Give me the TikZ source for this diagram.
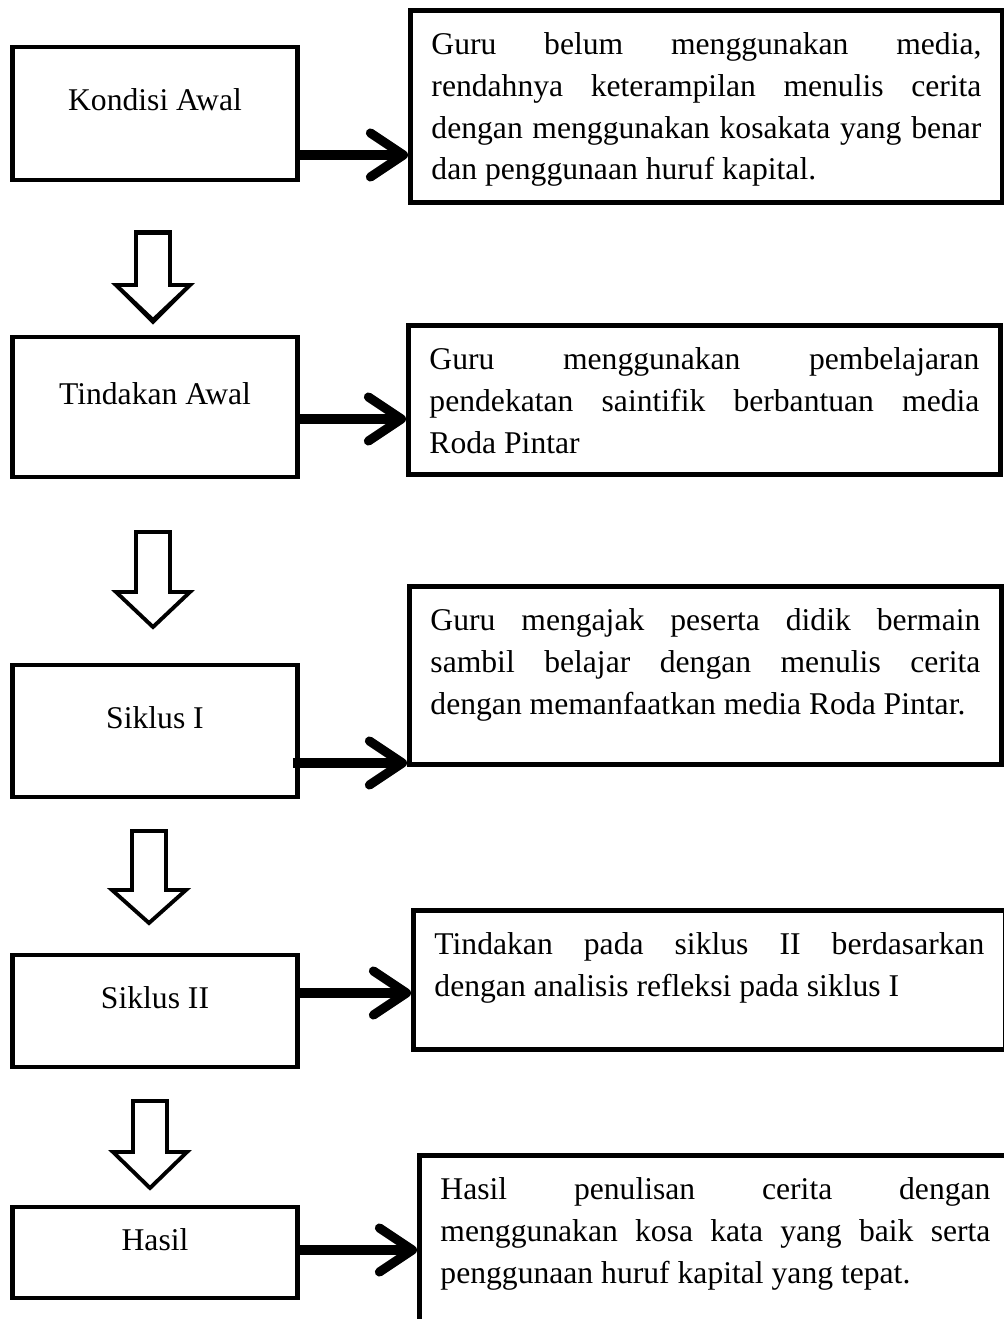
\documentclass[tikz,border=0pt]{standalone}
\usepackage{fontspec}
\setmainfont{Liberation Serif}
\usetikzlibrary{arrows.meta}
\tolerance=10000
\hyphenpenalty=10000

\tikzset{
    tahap/.style={draw, line width=1.4pt, minimum width=2.85cm, inner sep=0pt, text height=2.2mm, text depth=2.7mm},
    ket/.style={draw, line width=1.4pt, anchor=north west, inner xsep=2.1mm, inner ysep=2.2mm},
    panah/.style={line width=2.6pt, -{Straight Barb[round, length=3.3mm, width=4.4mm]}},
    kosong/.style={draw, line width=1.1pt, fill=white}
}

\begin{document}
\begin{tikzpicture}[x=0.1mm, y=-0.1mm, every node/.style={font=\fontsize{9}{11.9}\selectfont}]
            % image from (0,0) to (1003,1319), y goes down
            \useasboundingbox (0,0) rectangle (1003,1319);

            % Stages on the left
            \node[tahap, minimum height=1.33cm] (kondisi) at (155,113.5) {Kondisi Awal};
            \node[tahap, minimum height=1.40cm] (tindakan) at (155,407) {Tindakan Awal};
            \node[tahap, minimum height=1.32cm] (siklusI) at (155,731) {Siklus I};
            \node[tahap, minimum height=1.12cm] (siklusII) at (155,1011) {Siklus II};
            \node[tahap, minimum height=0.91cm] (hasil) at (155,1252.5) {Hasil};

            % Explanations on the right
            \node[ket] (ketKondisi) at (408,8) {\parbox[t][1.48cm][t]{5.5cm}{Guru belum menggunakan media,\linebreak rendahnya keterampilan menulis cerita\linebreak dengan menggunakan kosakata yang benar\linebreak dan penggunaan huruf kapital.}};
            \node[ket] (ketTindakan) at (406,323) {\parbox[t][1.05cm][t]{5.5cm}{Guru menggunakan pembelajaran\linebreak pendekatan saintifik berbantuan media\linebreak Roda Pintar}};
            \node[ket] (ketSiklusI) at (407,584) {\parbox[t][1.34cm][t]{5.5cm}{Guru mengajak peserta didik bermain\linebreak sambil belajar dengan menulis cerita\linebreak dengan memanfaatkan media Roda Pintar.}};
            \node[ket] (ketSiklusII) at (411,908) {\parbox[t][0.95cm][t]{5.5cm}{Tindakan pada siklus II berdasarkan\linebreak dengan analisis refleksi pada siklus I}};
            \node[ket] (ketHasil) at (417,1153) {\parbox[t][2.0cm][t]{5.5cm}{Hasil penulisan cerita dengan\linebreak menggunakan kosa kata yang baik serta\linebreak penggunaan huruf kapital yang tepat.}};

            % Arrows to the explanations
            \draw[panah] (kondisi.east |- 0,155) -- (ketKondisi.west |- 0,155);
            \draw[panah] (tindakan.east |- 0,419) -- (ketTindakan.west |- 0,419);
            \draw[panah, shorten <=-0.7mm] (siklusI.east |- 0,763) -- (ketSiklusI.west |- 0,763);
            \draw[panah] (siklusII.east |- 0,993) -- (ketSiklusII.west |- 0,993);
            \draw[panah] (hasil.east |- 0,1250) -- (ketHasil.west |- 0,1250);

            % Hollow arrows between the stages (x / top / head / tip)
            \foreach \x/\t/\h/\p in {153/232/285/322, 153/233/285/320, 153/532/592/627, 149/831/890/923, 150/1101/1152/1188}
                \draw[kosong] ({\x-17},\t) -- ({\x+17},\t) -- ({\x+17},\h) -- ({\x+37},\h) -- (\x,\p) -- ({\x-37},\h) -- ({\x-17},\h) -- cycle;
\end{tikzpicture}
\end{document}
